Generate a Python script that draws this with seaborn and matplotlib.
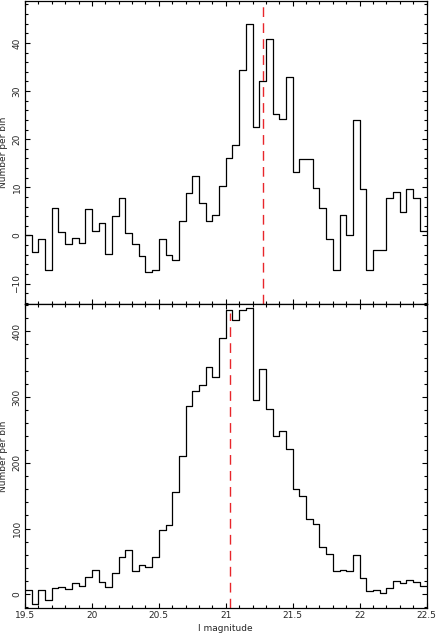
import numpy as np
import pandas as pd
import matplotlib
matplotlib.use("Agg")
import matplotlib.pyplot as plt
from matplotlib.ticker import MultipleLocator, FuncFormatter
import seaborn as sns

# bins: 60 bins of 0.05 mag from 19.5 to 22.5
bin_edges = np.linspace(19.5, 22.5, 61)

# background-subtracted counts (upper panel)
top_counts = [0, -3.4, -0.8, -7.1, 5.8, 0.8, -1.7, -0.6, -1.6, 5.4,
              1.0, 2.6, -3.8, 4.0, 7.8, 0.6, -1.8, -4.2, -7.5, -7.2,
              -0.7, -4.1, -5.0, 3.1, 8.9, 12.4, 6.8, 3.1, 4.3, 10.2,
              16.2, 18.75, 34.4, 43.9, 22.6, 32.2, 40.8, 25.2, 24.2, 32.9,
              13.1, 15.8, 15.8, 9.9, 5.7, -0.7, -7.2, 4.2, 0.1, 24.0,
              9.7, -7.2, -3.0, -3.1, 7.8, 9.0, 4.9, 9.6, 7.7, 0.9]

# counts (lower panel)
bottom_counts = [6, -14.7, 6, -8, 9, 10.6, 7.6, 17.7, 13.1, 26.8,
                 36.4, 18.2, 10.6, 32.4, 56.1, 67.3, 35.4, 45, 41.5, 57.1,
                 97.1, 105.2, 155.8, 210.9, 285.7, 309.5, 318.1, 345.4, 329.7, 389.9,
                 432.9, 417.2, 432.9, 434.9, 294.8, 342.9, 282.2, 240.2, 248.8, 220.5,
                 159.8, 149.2, 115.3, 107.2, 71.8, 60.7, 35.4, 37.4, 35.9, 59.7,
                 25.3, 5.1, 6.6, 1.5, 9.1, 20.2, 17.2, 21.2, 19.2, 12.6]

# marker lines (tip magnitude)
top_marker = 21.28
bottom_marker = 21.03

# step outline: each bin's left edge, plus the last value repeated at the right edge
steps = pd.DataFrame({
    "mag": bin_edges,
    "top": top_counts + top_counts[-1:],
    "bottom": bottom_counts + bottom_counts[-1:],
})

sns.set_style("ticks")
plt.rcParams["font.family"] = ["DejaVu Sans"]
plt.rcParams["xtick.direction"] = "in"
plt.rcParams["ytick.direction"] = "in"
plt.rcParams["axes.linewidth"] = 0.9

fig = plt.figure(figsize=(4.36, 6.39), dpi=100)
ax1 = fig.add_axes([0.0573, 0.5238, 0.921, 0.4752])
ax2 = fig.add_axes([0.0573, 0.049, 0.921, 0.4748], sharex=ax1)

for ax, col in [(ax1, "top"), (ax2, "bottom")]:
    sns.lineplot(data=steps, x="mag", y=col, drawstyle="steps-post",
                 color="black", linewidth=0.9, ax=ax)

ax1.set_ylim(-14.3, 48.8)
ax2.set_ylim(-20.3, 441)
ax1.set_xlim(19.5, 22.5)

red = "#e8262b"
ax1.axvline(top_marker, color=red, linewidth=1.0, dashes=(7, 4.5))
ax2.vlines(bottom_marker, -20.3, 428, color=red, linewidth=1.0, linestyles=(0, (7, 4.5)))

ax1.yaxis.set_major_locator(MultipleLocator(10))
ax1.yaxis.set_minor_locator(MultipleLocator(2))
ax2.yaxis.set_major_locator(MultipleLocator(100))
ax2.yaxis.set_minor_locator(MultipleLocator(20))
ax2.xaxis.set_major_locator(MultipleLocator(0.5))
ax2.xaxis.set_minor_locator(MultipleLocator(0.1))
ax2.xaxis.set_major_formatter(FuncFormatter(lambda v, p: f"{v:g}"))

for ax in (ax1, ax2):
    for s in ax.spines.values():
        s.set_visible(True)
        s.set_color("black")
    ax.tick_params(which="both", top=True, right=True, direction="in",
                   labelsize=6.5, color="black", width=0.8, pad=2.5)
    ax.tick_params(which="major", length=3.5)
    ax.tick_params(which="minor", length=2)
    for lab in ax.get_yticklabels():
        lab.set_rotation(90)
        lab.set_va("center")
    ax.set_ylabel("Number per bin", fontsize=6.5, labelpad=3)

ax1.tick_params(labelbottom=False)
ax1.set_xlabel("")
ax2.set_xlabel("I magnitude", fontsize=6.5, labelpad=3)

fig.savefig("out.png", dpi=100)
